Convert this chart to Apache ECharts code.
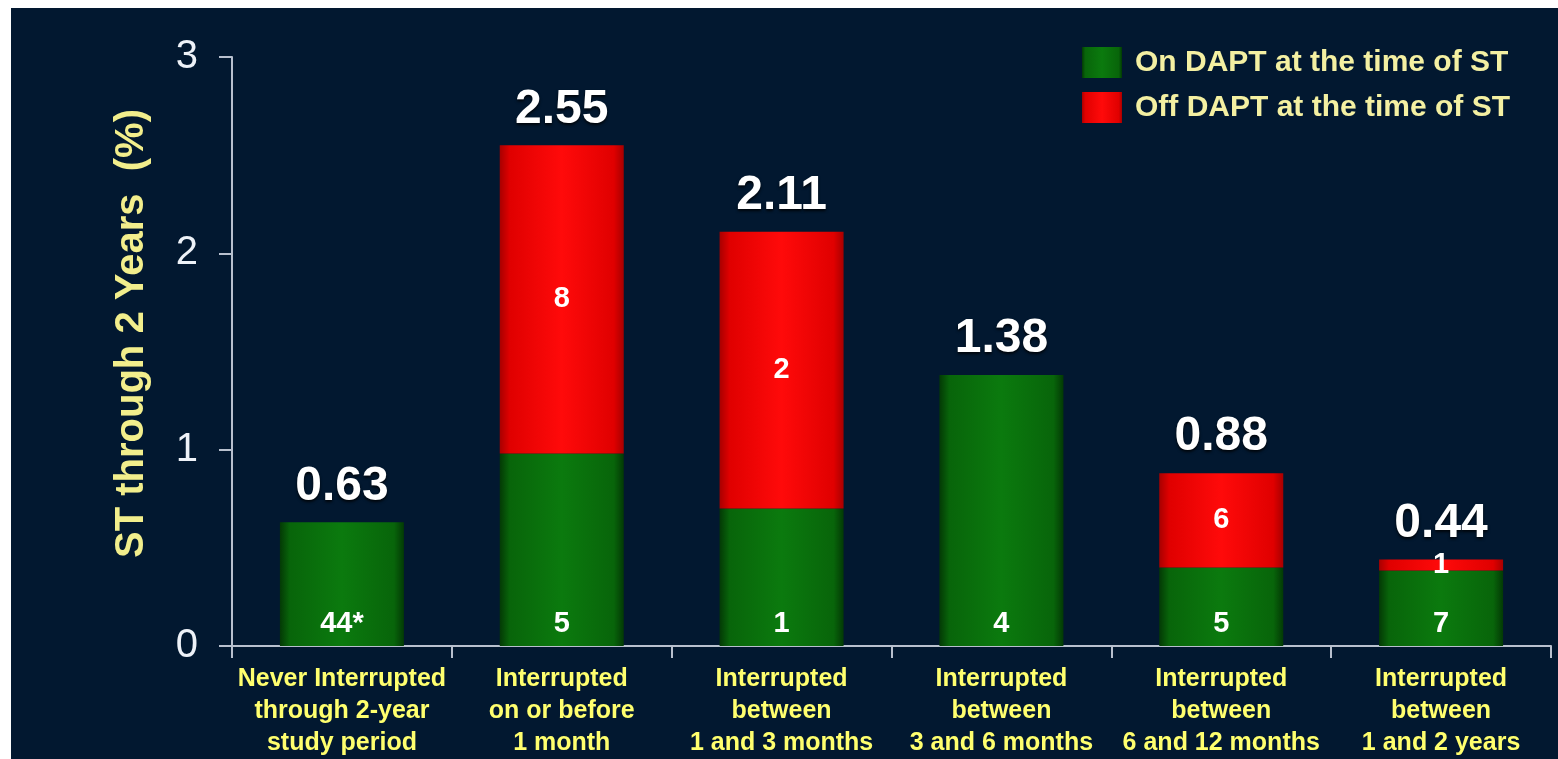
<!DOCTYPE html>
<html>
<head>
<meta charset="utf-8">
<script src="https://cdn.jsdelivr.net/npm/echarts@6/dist/echarts.min.js"></script>
<style>
  html, body { margin: 0; padding: 0; background: #ffffff; }
  #chart { position: absolute; left: 11px; top: 8px; width: 1547px; height: 751px; background: #021830; }
</style>
</head>
<body>
<div id="chart"></div>
<script>
// Stent thrombosis rate through 2 years, by DAPT interruption pattern
const categories = [
  'Never Interrupted\nthrough 2-year\nstudy period',
  'Interrupted\non or before\n1 month',
  'Interrupted\nbetween\n1 and 3 months',
  'Interrupted\nbetween\n3 and 6 months',
  'Interrupted\nbetween\n6 and 12 months',
  'Interrupted\nbetween\n1 and 2 years'
];
const onDaptValues  = [0.63, 0.98, 0.70, 1.38, 0.40, 0.385];
const offDaptValues = [0, 1.57, 1.41, 0, 0.48, 0.055];
const totalValues   = [0.63, 2.55, 2.11, 1.38, 0.88, 0.44];
const onDaptCounts  = ['44*', '5', '1', '4', '5', '7'];
const offDaptCounts = ['', '8', '2', '', '6', '1'];
const yTicks = [0, 1, 2, 3];

const FONT = '"Liberation Sans", Arial, sans-serif';

function barGradient(edge, mid, center) {
  return new echarts.graphic.LinearGradient(0, 0, 1, 0, [
    { offset: 0, color: edge },
    { offset: 0.08, color: mid },
    { offset: 0.5, color: center },
    { offset: 0.92, color: mid },
    { offset: 1, color: edge }
  ]);
}

const greenFill = barGradient('#033a05', '#08650a', '#0b7a0e');
const redFill = barGradient('#a80000', '#e00000', '#ff0a0a');

const chart = echarts.init(document.getElementById('chart'));
chart.setOption({
  backgroundColor: '#021830',
  animation: false,
  legend: {
    orient: 'vertical',
    left: 1066,
    top: 34,
    itemWidth: 40,
    itemHeight: 31,
    itemGap: 14,
    icon: 'rect',
    data: ['On DAPT at the time of ST', 'Off DAPT at the time of ST'],
    textStyle: {
      color: '#f4f0a2', fontFamily: FONT, fontWeight: 'bold', fontSize: 30,
      lineHeight: 31, padding: [0, 0, 0, 8]
    }
  },
  grid: { left: 221, right: 7, top: 49, bottom: 113 },
  xAxis: {
    type: 'category',
    data: categories,
    axisLine: { lineStyle: { color: '#b8c0ce', width: 2 } },
    axisTick: { show: true, length: 12, lineStyle: { color: '#b8c0ce', width: 2 } },
    axisLabel: {
      color: '#ffff6e', fontFamily: FONT, fontWeight: 'bold', fontSize: 25,
      lineHeight: 32, margin: 17, interval: 0
    }
  },
  yAxis: {
    type: 'value',
    min: 0, max: 3, interval: 1,
    name: 'ST through 2 Years  (%)',
    nameLocation: 'middle',
    nameRotate: 90,
    nameGap: 80,
    nameTextStyle: { color: '#f2ee8c', fontFamily: FONT, fontWeight: 'bold', fontSize: 40, padding: [0, 0, 0, 36] },
    axisLine: { show: true, lineStyle: { color: '#b8c0ce', width: 2 } },
    axisTick: { show: true, length: 13, lineStyle: { color: '#b8c0ce', width: 2 } },
    splitLine: { show: false },
    axisLabel: {
      color: '#eef2f8', fontFamily: FONT, fontSize: 40, margin: 34,
      formatter: v => (yTicks.includes(v) ? String(v) : '')
    }
  },
  series: [
    {
      name: 'On DAPT at the time of ST',
      type: 'bar',
      stack: 'st',
      barWidth: 124,
      data: onDaptValues,
      itemStyle: { color: greenFill, borderWidth: 0 },
      label: {
        show: true, position: 'insideBottom', distance: 8,
        color: '#ffffff', fontFamily: FONT, fontWeight: 'bold', fontSize: 29,
        formatter: p => onDaptCounts[p.dataIndex]
      }
    },
    {
      name: 'Off DAPT at the time of ST',
      type: 'bar',
      stack: 'st',
      barWidth: 124,
      data: offDaptValues,
      itemStyle: { color: redFill, borderWidth: 0 },
      label: {
        show: true, position: 'inside',
        color: '#ffffff', fontFamily: FONT, fontWeight: 'bold', fontSize: 29,
        formatter: p => offDaptCounts[p.dataIndex]
      }
    },
    {
      name: 'Total',
      type: 'bar',
      barWidth: 124,
      barGap: '-100%',
      data: totalValues,
      itemStyle: { color: 'rgba(0,0,0,0)' },
      z: 1,
      label: {
        show: true, position: 'top', distance: 12,
        color: '#ffffff', fontFamily: FONT, fontWeight: 'bold', fontSize: 48,
        textShadowColor: 'rgba(0,0,0,0.8)', textShadowBlur: 3, textShadowOffsetY: 2,
        formatter: p => totalValues[p.dataIndex].toFixed(2)
      }
    }
  ]
});
</script>
</body>
</html>
